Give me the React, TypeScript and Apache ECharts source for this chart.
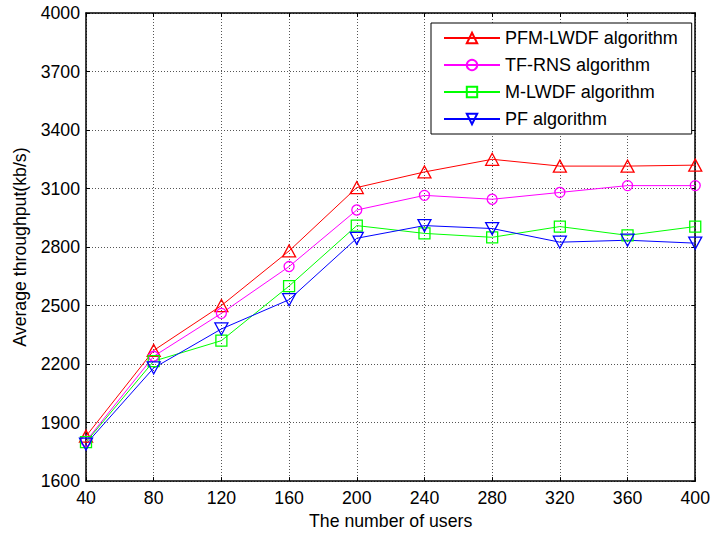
import React, { useEffect, useRef } from "react";
import * as echarts from "echarts";

const users = [40, 80, 120, 160, 200, 240, 280, 320, 360, 400];
const pfmLwdf = [1830, 2270, 2500, 2780, 3105, 3185, 3250, 3215, 3215, 3220];
const tfRns = [1805, 2240, 2460, 2700, 2990, 3065, 3045, 3080, 3115, 3115];
const mLwdf = [1800, 2215, 2320, 2600, 2910, 2870, 2850, 2905, 2860, 2905];
const pf = [1790, 2180, 2380, 2530, 2845, 2910, 2895, 2825, 2835, 2820];
const seriesNames = ["PFM-LWDF algorithm", "TF-RNS algorithm", "M-LWDF algorithm", "PF algorithm"];

const FONT = "'Liberation Sans', Arial, sans-serif";

export default function App() {
  const ref = useRef<HTMLDivElement>(null);
  useEffect(() => {
    if (!ref.current) return;
    const chart = echarts.init(ref.current, null, { renderer: "svg" });
    const mk = (name: string, vals: number[], color: string, symbol: string, size: any) => ({
      name,
      type: "line",
      data: users.map((u, i) => [u, vals[i]]),
      symbol,
      symbolSize: size,
      showAllSymbol: true,
      color,
      lineStyle: { color, width: 1 },
      itemStyle: { color: "rgba(255,255,255,0)", borderColor: color, borderWidth: 1.3 },
      emphasis: { disabled: true },
    });
    const textStyle = { fontFamily: FONT, fontSize: 17.7, color: "#000" };
    chart.setOption({
      animation: false,
      backgroundColor: "#fff",
      grid: { left: 86, right: 13, top: 13, bottom: 51, show: false },
      legend: {
        orient: "vertical",
        left: 431,
        top: 23,
        padding: [6, 14, 6, 12],
        itemGap: 9,
        itemWidth: 56,
        itemHeight: 13,
        backgroundColor: "#fff",
        borderColor: "#000",
        borderWidth: 1,
        borderRadius: 0,
        data: seriesNames,
        textStyle: { fontFamily: FONT, fontSize: 18, color: "#000", lineHeight: 17 },
      },
      xAxis: [
        {
          type: "value",
          min: 40,
          max: 400,
          interval: 40,
          name: "The number of users",
          nameLocation: "middle",
          nameGap: 30,
          nameTextStyle: textStyle,
          axisLine: { show: true, lineStyle: { color: "#000", width: 1.5 } },
          axisTick: { show: true, inside: true, length: 4, lineStyle: { color: "#000" } },
          axisLabel: { ...textStyle, margin: 8, formatter: (v: number) => String(v) },
          splitLine: { show: true, lineStyle: { color: "#555", type: [1, 2], width: 1 } },
        },
        {
          type: "value",
          position: "top",
          min: 40,
          max: 400,
          interval: 40,
          axisLine: { show: true, lineStyle: { color: "#000", width: 1.5 } },
          axisTick: { show: true, inside: true, length: 4, lineStyle: { color: "#000" } },
          axisLabel: { show: false },
          splitLine: { show: false },
        },
      ],
      yAxis: [
        {
          type: "value",
          min: 1600,
          max: 4000,
          interval: 300,
          name: "Average throughput(kb/s)",
          nameLocation: "middle",
          nameGap: 57,
          nameTextStyle: textStyle,
          axisLine: { show: true, lineStyle: { color: "#000", width: 1.5 } },
          axisTick: { show: true, inside: true, length: 4, lineStyle: { color: "#000" } },
          axisLabel: { ...textStyle, margin: 6, formatter: (v: number) => String(v) },
          splitLine: { show: true, lineStyle: { color: "#555", type: [1, 2], width: 1 } },
        },
        {
          type: "value",
          position: "right",
          min: 1600,
          max: 4000,
          interval: 300,
          axisLine: { show: true, lineStyle: { color: "#000", width: 1.5 } },
          axisTick: { show: true, inside: true, length: 4, lineStyle: { color: "#000" } },
          axisLabel: { show: false },
          splitLine: { show: false },
        },
      ],
      series: [
        mk(seriesNames[0], pfmLwdf, "#ff0000", "triangle", [13, 12]),
        mk(seriesNames[1], tfRns, "#ff00ff", "circle", 10),
        mk(seriesNames[2], mLwdf, "#00ff00", "rect", 11),
        mk(seriesNames[3], pf, "#0000ff", "path://M0,0L20,0L10,18Z", [13, 12]),
      ],
    });
    return () => chart.dispose();
  }, []);
  return (
    <div
      ref={ref}
      style={{ position: "fixed", left: 0, top: 0, width: 713, height: 535, background: "#fff" }}
    />
  );
}
